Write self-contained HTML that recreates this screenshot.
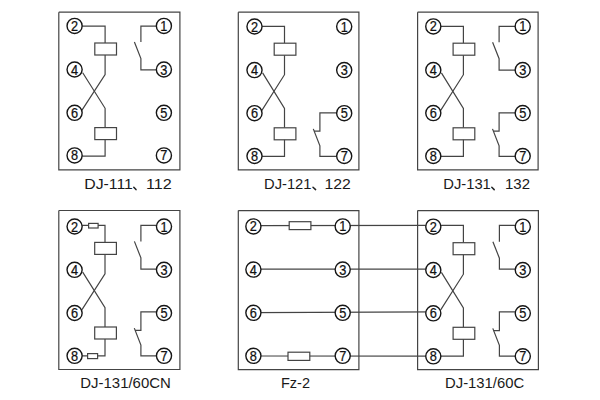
<!DOCTYPE html>
<html><head><meta charset="utf-8"><style>
html,body{margin:0;padding:0;background:#fff;width:600px;height:400px;overflow:hidden}
svg{display:block}
.d{font-family:"Liberation Sans",sans-serif;font-size:14.5px;fill:#111;stroke:#111;stroke-width:0.25}
.lb{font-family:"Liberation Sans",sans-serif;font-size:14.5px;fill:#1a1a1a}
</style></head><body>
<svg width="600" height="400" viewBox="0 0 600 400">
<rect width="600" height="400" fill="#fff"/>
<path d="M58.80,12.20 L179.90,12.20 L179.90,169.90 L58.80,169.90 L58.80,12.20" fill="none" stroke="#444" stroke-width="1.2"/>
<path d="M82.15,26.10 L105.10,26.10 L105.10,43.00" fill="none" stroke="#444" stroke-width="1.2"/>
<rect x="94.80" y="43.00" width="21.70" height="12.00" fill="#fff" stroke="#444" stroke-width="1.2"/>
<path d="M105.10,55.00 L105.10,74.50 L82.00,110.20" fill="none" stroke="#444" stroke-width="1.2"/>
<path d="M82.70,72.70 L105.10,108.30 L105.10,127.60" fill="none" stroke="#444" stroke-width="1.2"/>
<rect x="94.80" y="127.60" width="21.70" height="12.00" fill="#fff" stroke="#444" stroke-width="1.2"/>
<path d="M105.10,139.60 L105.10,156.10 L82.15,156.10" fill="none" stroke="#444" stroke-width="1.2"/>
<path d="M156.35,26.10 L140.90,26.10 L140.90,42.00" fill="none" stroke="#444" stroke-width="1.2"/>
<path d="M134.40,42.00 L140.90,58.50 L140.90,69.90 L156.35,69.90" fill="none" stroke="#444" stroke-width="1.2"/>
<circle cx="74.60" cy="25.90" r="7.55" fill="#fff" stroke="#161616" stroke-width="1.4"/>
<text transform="translate(74.60 30.90) scale(0.88 1)" text-anchor="middle" class="d">2</text>
<circle cx="163.90" cy="25.90" r="7.55" fill="#fff" stroke="#161616" stroke-width="1.4"/>
<text transform="translate(163.90 30.90) scale(0.88 1)" text-anchor="middle" class="d">1</text>
<circle cx="74.60" cy="69.50" r="7.55" fill="#fff" stroke="#161616" stroke-width="1.4"/>
<text transform="translate(74.60 74.50) scale(0.88 1)" text-anchor="middle" class="d">4</text>
<circle cx="163.90" cy="69.50" r="7.55" fill="#fff" stroke="#161616" stroke-width="1.4"/>
<text transform="translate(163.90 74.50) scale(0.88 1)" text-anchor="middle" class="d">3</text>
<circle cx="74.60" cy="112.80" r="7.55" fill="#fff" stroke="#161616" stroke-width="1.4"/>
<text transform="translate(74.60 117.80) scale(0.88 1)" text-anchor="middle" class="d">6</text>
<circle cx="163.90" cy="112.80" r="7.55" fill="#fff" stroke="#161616" stroke-width="1.4"/>
<text transform="translate(163.90 117.80) scale(0.88 1)" text-anchor="middle" class="d">5</text>
<circle cx="74.60" cy="155.40" r="7.55" fill="#fff" stroke="#161616" stroke-width="1.4"/>
<text transform="translate(74.60 160.40) scale(0.88 1)" text-anchor="middle" class="d">8</text>
<circle cx="163.90" cy="155.40" r="7.55" fill="#fff" stroke="#161616" stroke-width="1.4"/>
<text transform="translate(163.90 160.40) scale(0.88 1)" text-anchor="middle" class="d">7</text>
<path d="M238.30,12.20 L358.90,12.20 L358.90,169.90 L238.30,169.90 L238.30,12.20" fill="none" stroke="#444" stroke-width="1.2"/>
<path d="M262.05,26.40 L284.50,26.40 L284.50,43.20" fill="none" stroke="#444" stroke-width="1.2"/>
<rect x="274.20" y="43.20" width="21.70" height="12.00" fill="#fff" stroke="#444" stroke-width="1.2"/>
<path d="M284.50,55.20 L284.50,74.70 L261.90,110.40" fill="none" stroke="#444" stroke-width="1.2"/>
<path d="M262.60,72.90 L284.50,108.50 L284.50,127.80" fill="none" stroke="#444" stroke-width="1.2"/>
<rect x="274.20" y="127.80" width="21.70" height="12.00" fill="#fff" stroke="#444" stroke-width="1.2"/>
<path d="M284.50,139.80 L284.50,156.30 L262.05,156.30" fill="none" stroke="#444" stroke-width="1.2"/>
<path d="M336.65,112.80 L319.90,112.80 L319.90,131.10 L314.00,131.10" fill="none" stroke="#444" stroke-width="1.2"/>
<path d="M313.30,128.90 L319.90,145.80 L319.90,156.30 L336.65,156.30" fill="none" stroke="#444" stroke-width="1.2"/>
<circle cx="254.50" cy="26.50" r="7.55" fill="#fff" stroke="#161616" stroke-width="1.4"/>
<text transform="translate(254.50 31.50) scale(0.88 1)" text-anchor="middle" class="d">2</text>
<circle cx="344.20" cy="26.50" r="7.55" fill="#fff" stroke="#161616" stroke-width="1.4"/>
<text transform="translate(344.20 31.50) scale(0.88 1)" text-anchor="middle" class="d">1</text>
<circle cx="254.50" cy="70.10" r="7.55" fill="#fff" stroke="#161616" stroke-width="1.4"/>
<text transform="translate(254.50 75.10) scale(0.88 1)" text-anchor="middle" class="d">4</text>
<circle cx="344.20" cy="70.10" r="7.55" fill="#fff" stroke="#161616" stroke-width="1.4"/>
<text transform="translate(344.20 75.10) scale(0.88 1)" text-anchor="middle" class="d">3</text>
<circle cx="254.50" cy="113.20" r="7.55" fill="#fff" stroke="#161616" stroke-width="1.4"/>
<text transform="translate(254.50 118.20) scale(0.88 1)" text-anchor="middle" class="d">6</text>
<circle cx="344.20" cy="113.20" r="7.55" fill="#fff" stroke="#161616" stroke-width="1.4"/>
<text transform="translate(344.20 118.20) scale(0.88 1)" text-anchor="middle" class="d">5</text>
<circle cx="254.50" cy="156.00" r="7.55" fill="#fff" stroke="#161616" stroke-width="1.4"/>
<text transform="translate(254.50 161.00) scale(0.88 1)" text-anchor="middle" class="d">8</text>
<circle cx="344.20" cy="156.00" r="7.55" fill="#fff" stroke="#161616" stroke-width="1.4"/>
<text transform="translate(344.20 161.00) scale(0.88 1)" text-anchor="middle" class="d">7</text>
<path d="M417.60,12.20 L538.10,12.20 L538.10,169.90 L417.60,169.90 L417.60,12.20" fill="none" stroke="#444" stroke-width="1.2"/>
<path d="M440.85,26.40 L463.40,26.40 L463.40,43.20" fill="none" stroke="#444" stroke-width="1.2"/>
<rect x="453.10" y="43.20" width="21.70" height="12.00" fill="#fff" stroke="#444" stroke-width="1.2"/>
<path d="M463.40,55.20 L463.40,74.70 L440.70,110.40" fill="none" stroke="#444" stroke-width="1.2"/>
<path d="M441.40,72.90 L463.40,108.50 L463.40,127.80" fill="none" stroke="#444" stroke-width="1.2"/>
<rect x="453.10" y="127.80" width="21.70" height="12.00" fill="#fff" stroke="#444" stroke-width="1.2"/>
<path d="M463.40,139.80 L463.40,156.30 L440.85,156.30" fill="none" stroke="#444" stroke-width="1.2"/>
<path d="M515.15,26.40 L499.10,26.40 L499.10,42.20" fill="none" stroke="#444" stroke-width="1.2"/>
<path d="M492.60,42.20 L499.10,58.70 L499.10,70.20 L515.15,70.20" fill="none" stroke="#444" stroke-width="1.2"/>
<path d="M515.15,112.80 L499.10,112.80 L499.10,131.10 L493.20,131.10" fill="none" stroke="#444" stroke-width="1.2"/>
<path d="M492.50,128.90 L499.10,145.80 L499.10,156.30 L515.15,156.30" fill="none" stroke="#444" stroke-width="1.2"/>
<circle cx="433.30" cy="26.40" r="7.55" fill="#fff" stroke="#161616" stroke-width="1.4"/>
<text transform="translate(433.30 31.40) scale(0.88 1)" text-anchor="middle" class="d">2</text>
<circle cx="522.70" cy="26.40" r="7.55" fill="#fff" stroke="#161616" stroke-width="1.4"/>
<text transform="translate(522.70 31.40) scale(0.88 1)" text-anchor="middle" class="d">1</text>
<circle cx="433.30" cy="70.00" r="7.55" fill="#fff" stroke="#161616" stroke-width="1.4"/>
<text transform="translate(433.30 75.00) scale(0.88 1)" text-anchor="middle" class="d">4</text>
<circle cx="522.70" cy="70.00" r="7.55" fill="#fff" stroke="#161616" stroke-width="1.4"/>
<text transform="translate(522.70 75.00) scale(0.88 1)" text-anchor="middle" class="d">3</text>
<circle cx="433.30" cy="113.10" r="7.55" fill="#fff" stroke="#161616" stroke-width="1.4"/>
<text transform="translate(433.30 118.10) scale(0.88 1)" text-anchor="middle" class="d">6</text>
<circle cx="522.70" cy="113.10" r="7.55" fill="#fff" stroke="#161616" stroke-width="1.4"/>
<text transform="translate(522.70 118.10) scale(0.88 1)" text-anchor="middle" class="d">5</text>
<circle cx="433.30" cy="156.00" r="7.55" fill="#fff" stroke="#161616" stroke-width="1.4"/>
<text transform="translate(433.30 161.00) scale(0.88 1)" text-anchor="middle" class="d">8</text>
<circle cx="522.70" cy="156.00" r="7.55" fill="#fff" stroke="#161616" stroke-width="1.4"/>
<text transform="translate(522.70 161.00) scale(0.88 1)" text-anchor="middle" class="d">7</text>
<path d="M58.80,210.50 L179.90,210.50 L179.90,369.50 L58.80,369.50 L58.80,210.50" fill="none" stroke="#444" stroke-width="1.2"/>
<path d="M82.15,225.40 L105.00,225.40 L105.00,242.40" fill="none" stroke="#444" stroke-width="1.2"/>
<rect x="88.60" y="223.40" width="9.50" height="4.60" fill="#fff" stroke="#444" stroke-width="1.2"/>
<rect x="94.70" y="242.40" width="21.70" height="12.00" fill="#fff" stroke="#444" stroke-width="1.2"/>
<path d="M105.00,254.40 L105.00,273.90 L82.00,309.60" fill="none" stroke="#444" stroke-width="1.2"/>
<path d="M82.70,272.10 L105.00,307.70 L105.00,327.00" fill="none" stroke="#444" stroke-width="1.2"/>
<rect x="94.70" y="327.00" width="21.70" height="12.00" fill="#fff" stroke="#444" stroke-width="1.2"/>
<path d="M105.00,339.00 L105.00,355.80 L82.15,355.80" fill="none" stroke="#444" stroke-width="1.2"/>
<rect x="87.60" y="353.60" width="10.00" height="5.00" fill="#fff" stroke="#444" stroke-width="1.2"/>
<path d="M156.45,225.40 L140.90,225.40 L140.90,241.40" fill="none" stroke="#444" stroke-width="1.2"/>
<path d="M134.40,241.40 L140.90,257.90 L140.90,269.20 L156.45,269.20" fill="none" stroke="#444" stroke-width="1.2"/>
<path d="M156.45,311.90 L140.90,311.90 L140.90,330.30 L135.00,330.30" fill="none" stroke="#444" stroke-width="1.2"/>
<path d="M134.30,328.10 L140.90,345.00 L140.90,355.80 L156.45,355.80" fill="none" stroke="#444" stroke-width="1.2"/>
<circle cx="74.60" cy="226.50" r="7.55" fill="#fff" stroke="#161616" stroke-width="1.4"/>
<text transform="translate(74.60 231.50) scale(0.88 1)" text-anchor="middle" class="d">2</text>
<circle cx="164.00" cy="226.50" r="7.55" fill="#fff" stroke="#161616" stroke-width="1.4"/>
<text transform="translate(164.00 231.50) scale(0.88 1)" text-anchor="middle" class="d">1</text>
<circle cx="74.60" cy="269.80" r="7.55" fill="#fff" stroke="#161616" stroke-width="1.4"/>
<text transform="translate(74.60 274.80) scale(0.88 1)" text-anchor="middle" class="d">4</text>
<circle cx="164.00" cy="269.80" r="7.55" fill="#fff" stroke="#161616" stroke-width="1.4"/>
<text transform="translate(164.00 274.80) scale(0.88 1)" text-anchor="middle" class="d">3</text>
<circle cx="74.60" cy="313.00" r="7.55" fill="#fff" stroke="#161616" stroke-width="1.4"/>
<text transform="translate(74.60 318.00) scale(0.88 1)" text-anchor="middle" class="d">6</text>
<circle cx="164.00" cy="313.00" r="7.55" fill="#fff" stroke="#161616" stroke-width="1.4"/>
<text transform="translate(164.00 318.00) scale(0.88 1)" text-anchor="middle" class="d">5</text>
<circle cx="74.60" cy="355.80" r="7.55" fill="#fff" stroke="#161616" stroke-width="1.4"/>
<text transform="translate(74.60 360.80) scale(0.88 1)" text-anchor="middle" class="d">8</text>
<circle cx="164.00" cy="355.80" r="7.55" fill="#fff" stroke="#161616" stroke-width="1.4"/>
<text transform="translate(164.00 360.80) scale(0.88 1)" text-anchor="middle" class="d">7</text>
<path d="M238.30,210.60 L358.90,210.60 L358.90,369.60 L238.30,369.60 L238.30,210.60" fill="none" stroke="#444" stroke-width="1.2"/>
<path d="M417.60,210.60 L538.40,210.60 L538.40,369.70 L417.60,369.70 L417.60,210.60" fill="none" stroke="#444" stroke-width="1.2"/>
<path d="M253.40,225.60 L433.30,225.40" fill="none" stroke="#444" stroke-width="1.2"/>
<path d="M253.40,269.10 L433.30,269.10" fill="none" stroke="#444" stroke-width="1.2"/>
<path d="M253.40,312.60 L433.30,311.90" fill="none" stroke="#444" stroke-width="1.2"/>
<path d="M253.40,356.00 L433.30,356.20" fill="none" stroke="#444" stroke-width="1.2"/>
<rect x="289.20" y="221.70" width="21.70" height="7.90" fill="#fff" stroke="#444" stroke-width="1.2"/>
<rect x="288.00" y="352.20" width="21.80" height="8.20" fill="#fff" stroke="#444" stroke-width="1.2"/>
<circle cx="253.40" cy="226.40" r="7.55" fill="#fff" stroke="#161616" stroke-width="1.4"/>
<text transform="translate(253.40 231.40) scale(0.88 1)" text-anchor="middle" class="d">2</text>
<circle cx="342.70" cy="226.40" r="7.55" fill="#fff" stroke="#161616" stroke-width="1.4"/>
<text transform="translate(342.70 231.40) scale(0.88 1)" text-anchor="middle" class="d">1</text>
<circle cx="253.40" cy="269.60" r="7.55" fill="#fff" stroke="#161616" stroke-width="1.4"/>
<text transform="translate(253.40 274.60) scale(0.88 1)" text-anchor="middle" class="d">4</text>
<circle cx="342.70" cy="269.60" r="7.55" fill="#fff" stroke="#161616" stroke-width="1.4"/>
<text transform="translate(342.70 274.60) scale(0.88 1)" text-anchor="middle" class="d">3</text>
<circle cx="253.40" cy="312.80" r="7.55" fill="#fff" stroke="#161616" stroke-width="1.4"/>
<text transform="translate(253.40 317.80) scale(0.88 1)" text-anchor="middle" class="d">6</text>
<circle cx="342.70" cy="312.80" r="7.55" fill="#fff" stroke="#161616" stroke-width="1.4"/>
<text transform="translate(342.70 317.80) scale(0.88 1)" text-anchor="middle" class="d">5</text>
<circle cx="253.40" cy="355.80" r="7.55" fill="#fff" stroke="#161616" stroke-width="1.4"/>
<text transform="translate(253.40 360.80) scale(0.88 1)" text-anchor="middle" class="d">8</text>
<circle cx="342.70" cy="355.80" r="7.55" fill="#fff" stroke="#161616" stroke-width="1.4"/>
<text transform="translate(342.70 360.80) scale(0.88 1)" text-anchor="middle" class="d">7</text>
<path d="M440.85,225.40 L463.40,225.40 L463.40,242.70" fill="none" stroke="#444" stroke-width="1.2"/>
<rect x="453.10" y="242.70" width="21.70" height="12.00" fill="#fff" stroke="#444" stroke-width="1.2"/>
<path d="M463.40,254.70 L463.40,274.20 L440.70,309.90" fill="none" stroke="#444" stroke-width="1.2"/>
<path d="M441.40,272.40 L463.40,308.00 L463.40,327.30" fill="none" stroke="#444" stroke-width="1.2"/>
<rect x="453.10" y="327.30" width="21.70" height="12.00" fill="#fff" stroke="#444" stroke-width="1.2"/>
<path d="M463.40,339.30 L463.40,356.20 L440.85,356.20" fill="none" stroke="#444" stroke-width="1.2"/>
<path d="M515.25,225.40 L499.40,225.40 L499.40,241.70" fill="none" stroke="#444" stroke-width="1.2"/>
<path d="M492.90,241.70 L499.40,258.20 L499.40,269.10 L515.25,269.10" fill="none" stroke="#444" stroke-width="1.2"/>
<path d="M515.25,311.90 L499.40,311.90 L499.40,330.60 L493.50,330.60" fill="none" stroke="#444" stroke-width="1.2"/>
<path d="M492.80,328.40 L499.40,345.30 L499.40,356.20 L515.25,356.20" fill="none" stroke="#444" stroke-width="1.2"/>
<circle cx="433.30" cy="226.70" r="7.55" fill="#fff" stroke="#161616" stroke-width="1.4"/>
<text transform="translate(433.30 231.70) scale(0.88 1)" text-anchor="middle" class="d">2</text>
<circle cx="522.80" cy="226.70" r="7.55" fill="#fff" stroke="#161616" stroke-width="1.4"/>
<text transform="translate(522.80 231.70) scale(0.88 1)" text-anchor="middle" class="d">1</text>
<circle cx="433.30" cy="270.00" r="7.55" fill="#fff" stroke="#161616" stroke-width="1.4"/>
<text transform="translate(433.30 275.00) scale(0.88 1)" text-anchor="middle" class="d">4</text>
<circle cx="522.80" cy="270.00" r="7.55" fill="#fff" stroke="#161616" stroke-width="1.4"/>
<text transform="translate(522.80 275.00) scale(0.88 1)" text-anchor="middle" class="d">3</text>
<circle cx="433.30" cy="313.30" r="7.55" fill="#fff" stroke="#161616" stroke-width="1.4"/>
<text transform="translate(433.30 318.30) scale(0.88 1)" text-anchor="middle" class="d">6</text>
<circle cx="522.80" cy="313.30" r="7.55" fill="#fff" stroke="#161616" stroke-width="1.4"/>
<text transform="translate(522.80 318.30) scale(0.88 1)" text-anchor="middle" class="d">5</text>
<circle cx="433.30" cy="356.30" r="7.55" fill="#fff" stroke="#161616" stroke-width="1.4"/>
<text transform="translate(433.30 361.30) scale(0.88 1)" text-anchor="middle" class="d">8</text>
<circle cx="522.80" cy="356.30" r="7.55" fill="#fff" stroke="#161616" stroke-width="1.4"/>
<text transform="translate(522.80 361.30) scale(0.88 1)" text-anchor="middle" class="d">7</text>
<text x="84.25" y="188.50" class="lb" textLength="48.65" lengthAdjust="spacingAndGlyphs">DJ-111</text>
<text x="146.00" y="188.50" class="lb" textLength="25.80" lengthAdjust="spacingAndGlyphs">112</text>
<text x="264.00" y="188.50" class="lb" textLength="47.50" lengthAdjust="spacingAndGlyphs">DJ-121</text>
<text x="324.40" y="188.50" class="lb" textLength="26.35" lengthAdjust="spacingAndGlyphs">122</text>
<text x="443.25" y="188.50" class="lb" textLength="47.55" lengthAdjust="spacingAndGlyphs">DJ-131</text>
<text x="505.00" y="188.50" class="lb" textLength="25.00" lengthAdjust="spacingAndGlyphs">132</text>
<text x="80.30" y="387.90" class="lb" textLength="90.50" lengthAdjust="spacingAndGlyphs">DJ-131/60CN</text>
<text x="281.00" y="387.90" class="lb" textLength="29.00" lengthAdjust="spacingAndGlyphs">Fz-2</text>
<text x="445.00" y="387.90" class="lb" textLength="79.20" lengthAdjust="spacingAndGlyphs">DJ-131/60C</text>
<path d="M133.80,187.20 L136.00,189.60" stroke="#222" stroke-width="1.5" stroke-linecap="round"/>
<path d="M313.00,187.20 L315.60,189.60" stroke="#222" stroke-width="1.5" stroke-linecap="round"/>
<path d="M491.80,187.20 L494.20,189.60" stroke="#222" stroke-width="1.5" stroke-linecap="round"/>
</svg></body></html>
